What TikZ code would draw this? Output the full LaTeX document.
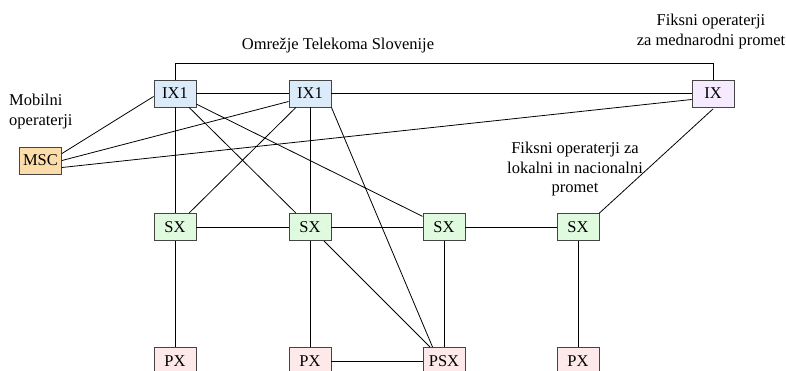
\documentclass[tikz,border=0pt]{standalone}
\usepackage{fontspec}
\setmainfont{Liberation Serif}
\definecolor{ixone}{HTML}{DCEBFA}
\definecolor{ixc}{HTML}{F6EAFF}
\definecolor{mscc}{HTML}{FCDCA8}
\definecolor{sxc}{HTML}{DFFADF}
\definecolor{pxc}{HTML}{FDE9E9}
\definecolor{bord}{HTML}{454545}
\tikzset{
  box/.style={draw=bord, line width=0.9pt, minimum width=42pt, minimum height=27pt, inner sep=0pt, font=\fontsize{16.5}{19}\selectfont},
  lbl/.style={align=center, inner sep=0pt, font=\fontsize{16.5}{19.3}\selectfont},
  link/.style={line width=0.8pt, black}
}
\begin{document}
\begin{tikzpicture}[x=1pt,y=-1pt]
\useasboundingbox (0,0) rectangle (786,370);
\clip (0,0) rectangle (786,370);
% nodes
\node[box, fill=ixone] (IXa) at (175,93.5) {IX1};
\node[box, fill=ixone] (IXb) at (310,93.5) {IX1};
\node[box, fill=ixc] (IX) at (713,93.5) {IX};
\node[box, fill=mscc] (MSC) at (40.5,160.5) {MSC};
\node[box, fill=sxc] (SXa) at (175,227) {SX};
\node[box, fill=sxc] (SXb) at (310,227) {SX};
\node[box, fill=sxc] (SXc) at (444,227) {SX};
\node[box, fill=sxc] (SXd) at (578,227) {SX};
\node[box, fill=pxc] (PXa) at (175,361) {PX};
\node[box, fill=pxc] (PXb) at (310,361) {PX};
\node[box, fill=pxc] (PSX) at (444,361) {PSX};
\node[box, fill=pxc] (PXd) at (578,361) {PX};
% labels (base = baseline of last line)
\node[lbl, anchor=base] (lnet) at (338,49.5) {Omrežje Telekoma Slovenije};
\node[lbl, anchor=base] (lint) at (711,45) {Fiksni operaterji\\za mednarodni promet};
\node[lbl, anchor=base west, align=left] (lmob) at (9,125) {Mobilni\\operaterji};
\node[lbl, anchor=base] (lloc) at (575,192.5) {Fiksni operaterji za\\lokalni in nacionalni\\promet};
% connectors
\begin{scope}[link]
\draw (IXa.north) -- ++(0,-16) -| (IX.north);
\draw (IXa) -- (IXb);
\draw (IXb) -- (IX);
\draw ([yshift=7pt]MSC.east) -- ([yshift=-3pt]IXa.west);
\draw ([yshift=0pt]MSC.east) -- ([yshift=-8pt]IXb.west);
\draw ([yshift=-7pt]MSC.east) -- ([yshift=-6pt]IX.west);
\draw (IXa) -- (SXa);
\draw (IXa) -- (SXb);
\draw (IXa) -- (SXc);
\draw (IXb) -- (SXa);
\draw (IXb) -- (SXb);
\draw (IXb.south east) -- ([xshift=10pt]PSX.north west);
\draw ([yshift=-1.5pt]IX.south) -- (SXd.north east);
\draw (SXa) -- (SXb);
\draw (SXb) -- (SXc);
\draw (SXc) -- (SXd);
\draw (SXb) -- (PSX);
\draw (SXa) -- (PXa);
\draw (SXb) -- (PXb);
\draw (SXc) -- (PSX);
\draw (SXd) -- (PXd);
\draw (PXb) -- (PSX);
\end{scope}
\end{tikzpicture}
\end{document}
